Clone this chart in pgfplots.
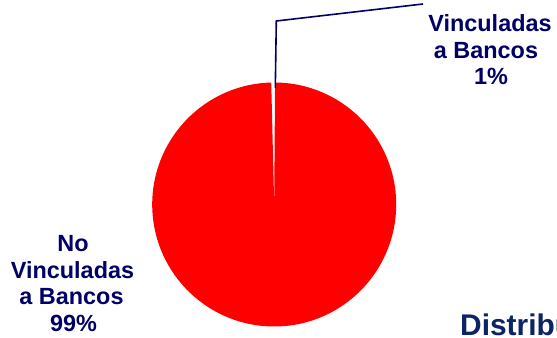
\documentclass[border=0pt]{standalone}
\usepackage{pgfplots}
\pgfplotsset{compat=1.18}
\usepackage{pgfplotstable}
\usepackage{fontspec}
\setmainfont{Liberation Sans}
\definecolor{navy}{HTML}{000066}
\definecolor{titleblue}{HTML}{0A2466}
\definecolor{piered}{HTML}{FF0000}

\pgfplotstableread{
label value
Vinculadas 0.5
NoVinculadas 99.5
}\piedata

\begin{document}
\begin{tikzpicture}
\useasboundingbox (0,0) rectangle (557bp,338bp);
\pgfplotstablegetelem{0}{value}\of\piedata \edef\va{\pgfplotsretval}
\pgfplotstablegetelem{1}{value}\of\piedata \edef\vb{\pgfplotsretval}
\pgfmathsetmacro\aS{89.6}
\pgfmathsetmacro\aM{\aS+3.6*\va}
\pgfmathsetmacro\aE{\aM+3.6*\vb}
\begin{axis}[at={(0,0)}, anchor=south west, scale only axis,
  width=557bp, height=338bp, xmin=0, xmax=557, ymin=0, ymax=338,
  hide axis, clip=false]
\fill[white] (axis cs:274.2,133.5) -- ++(\aS:122bp) arc[start angle=\aS, end angle=\aM, radius=122bp] -- cycle;
\fill[piered] (axis cs:274.2,133.5) -- ++(\aM:122bp) arc[start angle=\aM, end angle=\aE, radius=122bp] -- cycle;
\draw[navy, line width=1.6bp] (axis cs:275.3,250) -- (axis cs:276.3,317) -- (axis cs:423,334);
\begin{scope}[every node/.style={anchor=base, text=navy, inner sep=0pt, font=\bfseries\fontsize{23.5}{26}\selectfont}]
\node at (axis cs:490,306) {Vinculadas};
\node at (axis cs:486,279.5) {a Bancos};
\node at (axis cs:491,253) {1\%};
\node at (axis cs:73,86.3) {No};
\node at (axis cs:72.5,59.7) {Vinculadas};
\node at (axis cs:71.5,33) {a Bancos};
\node at (axis cs:73.5,6.3) {99\%};
\end{scope}
\node[anchor=base west, inner sep=0pt, text=titleblue, font=\bfseries\fontsize{30}{33}\selectfont] at (axis cs:460,3) {Distribución};
\end{axis}
\end{tikzpicture}
\end{document}
